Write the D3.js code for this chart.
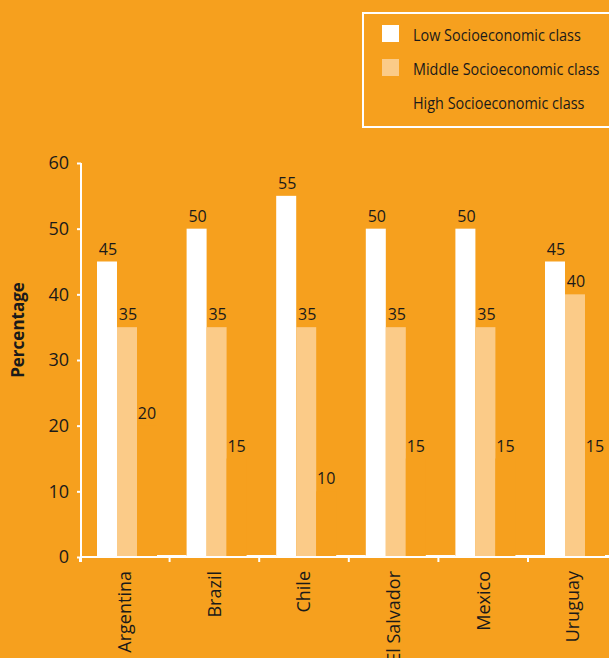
<!DOCTYPE html>
<html>
<head>
<meta charset="utf-8">
<script src="https://cdn.jsdelivr.net/npm/d3@7"></script>
<style>
  html, body { margin: 0; padding: 0; background: #F6A01E; }
  svg { display: block; }
  text { font-family: "Open Sans", sans-serif; fill: #1a1a1a; }
</style>
</head>
<body>
<svg id="chart" width="609" height="658"></svg>
<script>
const categories = ["Argentina", "Brazil", "Chile", "El Salvador", "Mexico", "Uruguay"];
const seriesNames = ["Low Socioeconomic class", "Middle Socioeconomic class", "High Socioeconomic class"];
const lowValues = [45, 50, 55, 50, 50, 45];
const middleValues = [35, 35, 35, 35, 35, 40];
const highValues = [20, 15, 10, 15, 15, 15];
const yTicks = [0, 10, 20, 30, 40, 50, 60];

const bg = "#F6A01E";
const colors = ["#FFFFFF", "#FBCB88", bg];
const series = [lowValues, middleValues, highValues];
const FONT = '"Open Sans", sans-serif';

const svg = d3.select("#chart");
svg.append("rect").attr("width", 609).attr("height", 658).attr("fill", bg);

const x = d3.scaleBand().domain(categories).range([80, 617.6]).padding(0);
const xs = d3.scaleBand().domain(d3.range(3)).range([17, 77]).padding(0);
const y = d3.scaleLinear().domain([0, 60]).range([557, 163]);

// bars
categories.forEach((c, i) => {
  const g = svg.append("g").attr("transform", `translate(${x(c)},0)`);
  series.forEach((vals, s) => {
    g.append("rect")
      .attr("x", xs(s)).attr("width", xs.bandwidth())
      .attr("y", y(vals[i])).attr("height", y(0) - y(vals[i]) - 1)
      .attr("fill", colors[s]);
    g.append("text")
      .attr("x", xs(s) + xs.bandwidth() / 2 + (s === 2 ? 0 : 1))
      .attr("y", y(vals[i]) - 7)
      .attr("text-anchor", "middle")
      .attr("font-size", 16)
      .text(vals[i]);
  });
  // thin baseline segment in gap
  g.append("line")
    .attr("x1", xs(2) + xs.bandwidth()).attr("x2", x.step() + xs(0))
    .attr("y1", y(0) - 1.5).attr("y2", y(0) - 1.5)
    .attr("stroke", "#fff").attr("stroke-width", 1);
});

// y axis
const yAxis = d3.axisLeft(y).tickValues(yTicks).tickSize(4).tickPadding(8);
const gy = svg.append("g").attr("transform", "translate(81,0)").call(yAxis);
gy.select(".domain").attr("stroke", "#fff").attr("stroke-width", 2).attr("d", "M0,163V562");
gy.selectAll(".tick line").attr("stroke", "#fff").attr("stroke-width", 2);
gy.selectAll(".tick text").attr("font-size", 18).attr("fill", "#1a1a1a").style("font-family", FONT);

// x axis
const xAxis = d3.axisBottom(x).tickSize(0).tickPadding(0);
const gx = svg.append("g").attr("transform", "translate(0,557)").call(xAxis);
gx.select(".domain").attr("stroke", "#fff").attr("stroke-width", 2).attr("d", "M80,0H609");
gx.selectAll(".tick text")
  .attr("transform", "rotate(-90)")
  .attr("x", -14).attr("y", 0).attr("dy", "0.35em")
  .attr("text-anchor", "end")
  .attr("font-size", 18).attr("fill", "#1a1a1a").style("font-family", FONT);
// boundary ticks
categories.forEach(c => {
  svg.append("line").attr("x1", x(c)).attr("x2", x(c))
    .attr("y1", 557).attr("y2", 562).attr("stroke", "#fff").attr("stroke-width", 2);
});

// y title
svg.append("text")
  .attr("transform", "translate(24,330) rotate(-90)")
  .attr("text-anchor", "middle")
  .attr("font-size", 17).attr("font-weight", "bold")
  .text("Percentage");

// legend
svg.append("rect").attr("x", 363).attr("y", 13).attr("width", 260).attr("height", 114)
  .attr("fill", "none").attr("stroke", "#fff").attr("stroke-width", 2);
seriesNames.forEach((n, i) => {
  const ly = 25 + i * 34;
  svg.append("rect").attr("x", 382).attr("y", ly).attr("width", 17).attr("height", 17)
    .attr("fill", colors[i]);
  svg.append("text")
    .attr("transform", `translate(413,${ly + 16}) scale(0.9,1)`)
    .attr("font-size", 16).text(n);
});
</script>
</body>
</html>
